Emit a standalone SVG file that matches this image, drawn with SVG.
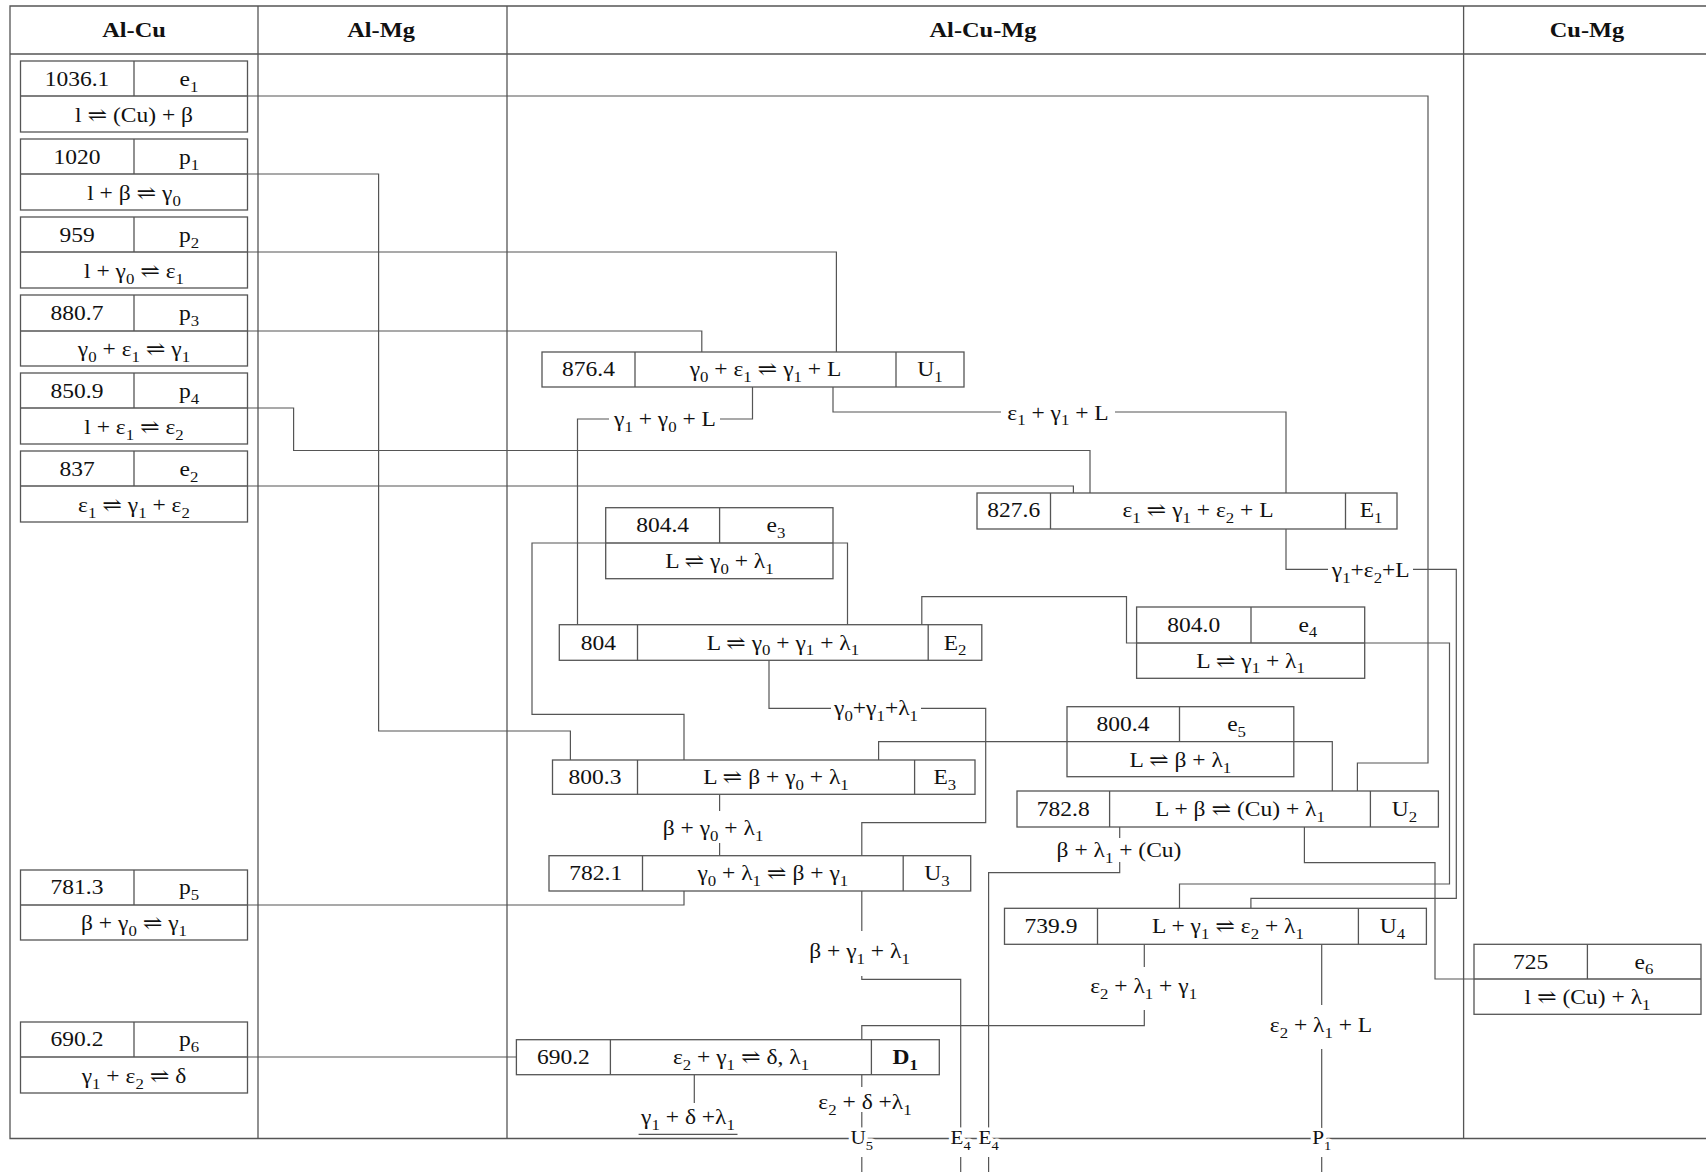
<svg xmlns="http://www.w3.org/2000/svg" width="1706" height="1172" viewBox="0 0 1706 1172">
<style>
.t{font-family:"Liberation Serif","DejaVu Serif",serif;font-size:21px;fill:#111;text-anchor:middle}
.h{font-family:"Liberation Serif","DejaVu Serif",serif;font-size:20px;font-weight:bold;fill:#111;text-anchor:middle}
.bd{font-weight:bold}
.s{font-size:15px;baseline-shift:-6px}
.bl{font-size:19px;stroke:#fff;stroke-width:7px;paint-order:stroke;stroke-linejoin:round}
.bl .s{font-size:13px}
.b{fill:#fff;stroke:#555;stroke-width:1.3}
.dv{fill:none;stroke:#555;stroke-width:1.3}
.c{fill:none;stroke:#555;stroke-width:1.2}
.g{fill:none;stroke:#555;stroke-width:1.3}
</style>
<rect width="1706" height="1172" fill="#fff"/>
<g id="table">
<polyline class="g" points="1706,6 10,6 10,1138.5 1706,1138.5"/>
<line class="g" x1="10" y1="54" x2="1706" y2="54"/>
<line class="g" x1="258" y1="6" x2="258" y2="1138.5"/>
<line class="g" x1="507" y1="6" x2="507" y2="1138.5"/>
<line class="g" x1="1463.6" y1="6" x2="1463.6" y2="1138.5"/>
<text class="h" transform="translate(134,37) scale(1.22,1)">Al-Cu</text>
<text class="h" transform="translate(381,37) scale(1.22,1)">Al-Mg</text>
<text class="h" transform="translate(983,37) scale(1.22,1)">Al-Cu-Mg</text>
<text class="h" transform="translate(1587,37) scale(1.22,1)">Cu-Mg</text>
</g>
<g id="connectors">
<polyline class="c" points="247.5,96 1428,96 1428,763 1357.4,763 1357.4,791"/>
<polyline class="c" points="247.5,174 378.6,174 378.6,731 570.4,731 570.4,760"/>
<polyline class="c" points="247.5,252 836.4,252 836.4,352"/>
<polyline class="c" points="247.5,331 701.8,331 701.8,352"/>
<polyline class="c" points="247.5,408 293.6,408 293.6,450.5 1090,450.5 1090,493"/>
<polyline class="c" points="247.5,486 1073.4,486 1073.4,493"/>
<polyline class="c" points="752.5,387 752.5,419 720,419"/>
<polyline class="c" points="609,419 577.5,419 577.5,624.7"/>
<polyline class="c" points="833,387 833,412 1001,412"/>
<polyline class="c" points="1115,412 1286,412 1286,493"/>
<polyline class="c" points="1286,529 1286,569.3 1328,569.3"/>
<polyline class="c" points="1413,569.3 1456.3,569.3 1456.3,898.3 1250.9,898.3 1250.9,908.3"/>
<polyline class="c" points="605.7,543 532,543 532,714.3 684,714.3 684,760"/>
<polyline class="c" points="833,543 847.5,543 847.5,624.7"/>
<polyline class="c" points="921.8,624.7 921.8,596.7 1126.5,596.7 1126.5,643 1136.6,643"/>
<polyline class="c" points="1364.7,643 1449.5,643 1449.5,884 1179.5,884 1179.5,908.3"/>
<polyline class="c" points="769,660.3 769,708.3 831,708.3"/>
<polyline class="c" points="921,708.3 985.7,708.3 985.7,822.7 861.8,822.7 861.8,855.7"/>
<polyline class="c" points="1067,741.7 878.6,741.7 878.6,760"/>
<polyline class="c" points="1293.8,741.7 1332.3,741.7 1332.3,791"/>
<polyline class="c" points="719.6,794.3 719.6,811"/>
<polyline class="c" points="719.6,843 719.6,855.7"/>
<polyline class="c" points="247.5,905 684,905 684,891"/>
<polyline class="c" points="861.8,891 861.8,931"/>
<polyline class="c" points="861.8,976 861.8,979.3 960.7,979.3 960.7,1138.5"/>
<polyline class="c" points="1119.7,827 1119.7,838"/>
<polyline class="c" points="1119.7,862 1119.7,872.7 988.6,872.7 988.6,1138.5"/>
<polyline class="c" points="1304.4,827 1304.4,862.7 1435,862.7 1435,979 1474,979"/>
<polyline class="c" points="1144.3,944.3 1144.3,967"/>
<polyline class="c" points="1144.3,1010 1144.3,1025.7 861.8,1025.7 861.8,1039.7"/>
<polyline class="c" points="1321.7,944.3 1321.7,1005"/>
<polyline class="c" points="1321.7,1049 1321.7,1138.5"/>
<polyline class="c" points="247.5,1057 516.4,1057"/>
<polyline class="c" points="694.3,1074.7 694.3,1103"/>
<line class="c" x1="638.6" y1="1134.3" x2="737.5" y2="1134.3"/>
<polyline class="c" points="861.8,1074.7 861.8,1087"/>
<polyline class="c" points="861.8,1112 861.8,1138.5"/>
<line class="c" x1="861.8" y1="1157" x2="861.8" y2="1172"/>
<line class="c" x1="960.7" y1="1157" x2="960.7" y2="1172"/>
<line class="c" x1="988.6" y1="1157" x2="988.6" y2="1172"/>
<line class="c" x1="1321.7" y1="1157" x2="1321.7" y2="1172"/>
<text class="t" transform="translate(665,426) scale(1.12,1)">γ<tspan class="s">1</tspan> + γ<tspan class="s">0</tspan> + L</text>
<text class="t" transform="translate(1058,419.5) scale(1.12,1)">ε<tspan class="s">1</tspan> + γ<tspan class="s">1</tspan> + L</text>
<text class="t" transform="translate(1370.7,577) scale(1.12,1)">γ<tspan class="s">1</tspan>+ε<tspan class="s">2</tspan>+L</text>
<text class="t" transform="translate(876,715) scale(1.12,1)">γ<tspan class="s">0</tspan>+γ<tspan class="s">1</tspan>+λ<tspan class="s">1</tspan></text>
<text class="t" transform="translate(713,835) scale(1.12,1)">β + γ<tspan class="s">0</tspan> + λ<tspan class="s">1</tspan></text>
<text class="t" transform="translate(859.5,958) scale(1.12,1)">β + γ<tspan class="s">1</tspan> + λ<tspan class="s">1</tspan></text>
<text class="t" transform="translate(1119,857) scale(1.12,1)">β + λ<tspan class="s">1</tspan> + (Cu)</text>
<text class="t" transform="translate(1143.6,993) scale(1.12,1)">ε<tspan class="s">2</tspan> + λ<tspan class="s">1</tspan> + γ<tspan class="s">1</tspan></text>
<text class="t" transform="translate(1321,1032) scale(1.12,1)">ε<tspan class="s">2</tspan> + λ<tspan class="s">1</tspan> + L</text>
<text class="t" transform="translate(865,1109) scale(1.12,1)">ε<tspan class="s">2</tspan> + δ +λ<tspan class="s">1</tspan></text>
<text class="t" transform="translate(688,1124) scale(1.12,1)">γ<tspan class="s">1</tspan> + δ +λ<tspan class="s">1</tspan></text>
<text class="t bl" transform="translate(861.8,1144) scale(1.12,1)">U<tspan class="s">5</tspan></text>
<text class="t bl" transform="translate(960.7,1144) scale(1.12,1)">E<tspan class="s">4</tspan></text>
<text class="t bl" transform="translate(988.6,1144) scale(1.12,1)">E<tspan class="s">4</tspan></text>
<text class="t bl" transform="translate(1321.7,1144) scale(1.12,1)">P<tspan class="s">1</tspan></text>
</g>
<g id="e1">
<rect class="b" x="20.5" y="61" width="227" height="71"/>
<line class="dv" x1="20.5" y1="96" x2="247.5" y2="96"/><line class="dv" x1="134" y1="61" x2="134" y2="96"/>
<text class="t" transform="translate(77,86) scale(1.12,1)">1036.1</text>
<text class="t" transform="translate(189,86) scale(1.12,1)">e<tspan class="s">1</tspan></text>
<text class="t" transform="translate(134,122) scale(1.12,1)">l ⇌ (Cu) + β</text>
</g>
<g id="p1">
<rect class="b" x="20.5" y="139" width="227" height="71"/>
<line class="dv" x1="20.5" y1="174" x2="247.5" y2="174"/><line class="dv" x1="134" y1="139" x2="134" y2="174"/>
<text class="t" transform="translate(77,164) scale(1.12,1)">1020</text>
<text class="t" transform="translate(189,164) scale(1.12,1)">p<tspan class="s">1</tspan></text>
<text class="t" transform="translate(134,200) scale(1.12,1)">l + β ⇌ γ<tspan class="s">0</tspan></text>
</g>
<g id="p2">
<rect class="b" x="20.5" y="217" width="227" height="71"/>
<line class="dv" x1="20.5" y1="252" x2="247.5" y2="252"/><line class="dv" x1="134" y1="217" x2="134" y2="252"/>
<text class="t" transform="translate(77,242) scale(1.12,1)">959</text>
<text class="t" transform="translate(189,242) scale(1.12,1)">p<tspan class="s">2</tspan></text>
<text class="t" transform="translate(134,278) scale(1.12,1)">l + γ<tspan class="s">0</tspan> ⇌ ε<tspan class="s">1</tspan></text>
</g>
<g id="p3">
<rect class="b" x="20.5" y="295" width="227" height="71"/>
<line class="dv" x1="20.5" y1="331" x2="247.5" y2="331"/><line class="dv" x1="134" y1="295" x2="134" y2="331"/>
<text class="t" transform="translate(77,320) scale(1.12,1)">880.7</text>
<text class="t" transform="translate(189,320) scale(1.12,1)">p<tspan class="s">3</tspan></text>
<text class="t" transform="translate(134,356) scale(1.12,1)">γ<tspan class="s">0</tspan> + ε<tspan class="s">1</tspan> ⇌ γ<tspan class="s">1</tspan></text>
</g>
<g id="p4">
<rect class="b" x="20.5" y="373" width="227" height="71"/>
<line class="dv" x1="20.5" y1="408" x2="247.5" y2="408"/><line class="dv" x1="134" y1="373" x2="134" y2="408"/>
<text class="t" transform="translate(77,398) scale(1.12,1)">850.9</text>
<text class="t" transform="translate(189,398) scale(1.12,1)">p<tspan class="s">4</tspan></text>
<text class="t" transform="translate(134,434) scale(1.12,1)">l + ε<tspan class="s">1</tspan> ⇌ ε<tspan class="s">2</tspan></text>
</g>
<g id="e2">
<rect class="b" x="20.5" y="451" width="227" height="71"/>
<line class="dv" x1="20.5" y1="486" x2="247.5" y2="486"/><line class="dv" x1="134" y1="451" x2="134" y2="486"/>
<text class="t" transform="translate(77,476) scale(1.12,1)">837</text>
<text class="t" transform="translate(189,476) scale(1.12,1)">e<tspan class="s">2</tspan></text>
<text class="t" transform="translate(134,512) scale(1.12,1)">ε<tspan class="s">1</tspan> ⇌ γ<tspan class="s">1</tspan> + ε<tspan class="s">2</tspan></text>
</g>
<g id="p5">
<rect class="b" x="20.5" y="870" width="227" height="70"/>
<line class="dv" x1="20.5" y1="905" x2="247.5" y2="905"/><line class="dv" x1="134" y1="870" x2="134" y2="905"/>
<text class="t" transform="translate(77,894) scale(1.12,1)">781.3</text>
<text class="t" transform="translate(189,894) scale(1.12,1)">p<tspan class="s">5</tspan></text>
<text class="t" transform="translate(134,930) scale(1.12,1)">β + γ<tspan class="s">0</tspan> ⇌ γ<tspan class="s">1</tspan></text>
</g>
<g id="p6">
<rect class="b" x="20.5" y="1022" width="227" height="71"/>
<line class="dv" x1="20.5" y1="1057" x2="247.5" y2="1057"/><line class="dv" x1="134" y1="1022" x2="134" y2="1057"/>
<text class="t" transform="translate(77,1046) scale(1.12,1)">690.2</text>
<text class="t" transform="translate(189,1046) scale(1.12,1)">p<tspan class="s">6</tspan></text>
<text class="t" transform="translate(134,1083) scale(1.12,1)">γ<tspan class="s">1</tspan> + ε<tspan class="s">2</tspan> ⇌ δ</text>
</g>
<g id="U1">
<rect class="b" x="542" y="352" width="422" height="35"/>
<line class="dv" x1="635" y1="352" x2="635" y2="387"/><line class="dv" x1="896" y1="352" x2="896" y2="387"/>
<text class="t" transform="translate(588.5,376) scale(1.12,1)">876.4</text>
<text class="t" transform="translate(765.5,376) scale(1.12,1)">γ<tspan class="s">0</tspan> + ε<tspan class="s">1</tspan> ⇌ γ<tspan class="s">1</tspan> + L</text>
<text class="t" transform="translate(930,376) scale(1.12,1)">U<tspan class="s">1</tspan></text>
</g>
<g id="E1">
<rect class="b" x="977" y="493" width="420" height="36"/>
<line class="dv" x1="1050.5" y1="493" x2="1050.5" y2="529"/><line class="dv" x1="1345.5" y1="493" x2="1345.5" y2="529"/>
<text class="t" transform="translate(1013.7,517) scale(1.12,1)">827.6</text>
<text class="t" transform="translate(1198,517) scale(1.12,1)">ε<tspan class="s">1</tspan> ⇌ γ<tspan class="s">1</tspan> + ε<tspan class="s">2</tspan> + L</text>
<text class="t" transform="translate(1371,517) scale(1.12,1)">E<tspan class="s">1</tspan></text>
</g>
<g id="e3">
<rect class="b" x="605.7" y="507.7" width="227.3" height="71"/>
<line class="dv" x1="605.7" y1="543" x2="833" y2="543"/><line class="dv" x1="719.6" y1="507.7" x2="719.6" y2="543"/>
<text class="t" transform="translate(662.6,532) scale(1.12,1)">804.4</text>
<text class="t" transform="translate(776,532) scale(1.12,1)">e<tspan class="s">3</tspan></text>
<text class="t" transform="translate(719.4,568) scale(1.12,1)">L ⇌ γ<tspan class="s">0</tspan> + λ<tspan class="s">1</tspan></text>
</g>
<g id="E2">
<rect class="b" x="559.3" y="624.7" width="422.5" height="35.6"/>
<line class="dv" x1="637.5" y1="624.7" x2="637.5" y2="660.3"/><line class="dv" x1="928.2" y1="624.7" x2="928.2" y2="660.3"/>
<text class="t" transform="translate(598.4,649.5) scale(1.12,1)">804</text>
<text class="t" transform="translate(782.9,649.5) scale(1.12,1)">L ⇌ γ<tspan class="s">0</tspan> + γ<tspan class="s">1</tspan> + λ<tspan class="s">1</tspan></text>
<text class="t" transform="translate(955,649.5) scale(1.12,1)">E<tspan class="s">2</tspan></text>
</g>
<g id="e4">
<rect class="b" x="1136.6" y="607" width="228.1" height="71.3"/>
<line class="dv" x1="1136.6" y1="643" x2="1364.7" y2="643"/><line class="dv" x1="1251" y1="607" x2="1251" y2="643"/>
<text class="t" transform="translate(1193.8,631.5) scale(1.12,1)">804.0</text>
<text class="t" transform="translate(1307.8,631.5) scale(1.12,1)">e<tspan class="s">4</tspan></text>
<text class="t" transform="translate(1250.6,667.5) scale(1.12,1)">L ⇌ γ<tspan class="s">1</tspan> + λ<tspan class="s">1</tspan></text>
</g>
<g id="e5">
<rect class="b" x="1067" y="706.7" width="226.8" height="70"/>
<line class="dv" x1="1067" y1="741.7" x2="1293.8" y2="741.7"/><line class="dv" x1="1179.5" y1="706.7" x2="1179.5" y2="741.7"/>
<text class="t" transform="translate(1123,731) scale(1.12,1)">800.4</text>
<text class="t" transform="translate(1236.6,731) scale(1.12,1)">e<tspan class="s">5</tspan></text>
<text class="t" transform="translate(1180.4,767) scale(1.12,1)">L ⇌ β + λ<tspan class="s">1</tspan></text>
</g>
<g id="E3">
<rect class="b" x="552.5" y="760" width="422.5" height="34.3"/>
<line class="dv" x1="637.5" y1="760" x2="637.5" y2="794.3"/><line class="dv" x1="914.6" y1="760" x2="914.6" y2="794.3"/>
<text class="t" transform="translate(595,784.3) scale(1.12,1)">800.3</text>
<text class="t" transform="translate(776,784.3) scale(1.12,1)">L ⇌ β + γ<tspan class="s">0</tspan> + λ<tspan class="s">1</tspan></text>
<text class="t" transform="translate(944.8,784.3) scale(1.12,1)">E<tspan class="s">3</tspan></text>
</g>
<g id="U2">
<rect class="b" x="1017" y="791" width="421.4" height="36"/>
<line class="dv" x1="1109.6" y1="791" x2="1109.6" y2="827"/><line class="dv" x1="1370.4" y1="791" x2="1370.4" y2="827"/>
<text class="t" transform="translate(1063.3,816) scale(1.12,1)">782.8</text>
<text class="t" transform="translate(1240,816) scale(1.12,1)">L + β ⇌ (Cu) + λ<tspan class="s">1</tspan></text>
<text class="t" transform="translate(1404.4,816) scale(1.12,1)">U<tspan class="s">2</tspan></text>
</g>
<g id="U3">
<rect class="b" x="549" y="855.7" width="421.7" height="35.3"/>
<line class="dv" x1="642.5" y1="855.7" x2="642.5" y2="891"/><line class="dv" x1="903.2" y1="855.7" x2="903.2" y2="891"/>
<text class="t" transform="translate(595.7,880) scale(1.12,1)">782.1</text>
<text class="t" transform="translate(772.8,880) scale(1.12,1)">γ<tspan class="s">0</tspan> + λ<tspan class="s">1</tspan> ⇌ β + γ<tspan class="s">1</tspan></text>
<text class="t" transform="translate(937,880) scale(1.12,1)">U<tspan class="s">3</tspan></text>
</g>
<g id="U4">
<rect class="b" x="1004.5" y="908.3" width="421.9" height="36"/>
<line class="dv" x1="1097.5" y1="908.3" x2="1097.5" y2="944.3"/><line class="dv" x1="1358.4" y1="908.3" x2="1358.4" y2="944.3"/>
<text class="t" transform="translate(1051,933) scale(1.12,1)">739.9</text>
<text class="t" transform="translate(1228,933) scale(1.12,1)">L + γ<tspan class="s">1</tspan> ⇌ ε<tspan class="s">2</tspan> + λ<tspan class="s">1</tspan></text>
<text class="t" transform="translate(1392.4,933) scale(1.12,1)">U<tspan class="s">4</tspan></text>
</g>
<g id="e6">
<rect class="b" x="1474" y="944.3" width="227" height="70"/>
<line class="dv" x1="1474" y1="979" x2="1701" y2="979"/><line class="dv" x1="1587.4" y1="944.3" x2="1587.4" y2="979"/>
<text class="t" transform="translate(1530.7,968.5) scale(1.12,1)">725</text>
<text class="t" transform="translate(1644,968.5) scale(1.12,1)">e<tspan class="s">6</tspan></text>
<text class="t" transform="translate(1587.5,1004) scale(1.12,1)">l ⇌ (Cu) + λ<tspan class="s">1</tspan></text>
</g>
<g id="D1">
<rect class="b" x="516.4" y="1039.7" width="422.9" height="35"/>
<line class="dv" x1="610.4" y1="1039.7" x2="610.4" y2="1074.7"/><line class="dv" x1="871.4" y1="1039.7" x2="871.4" y2="1074.7"/>
<text class="t" transform="translate(563.4,1064.3) scale(1.12,1)">690.2</text>
<text class="t" transform="translate(741,1064.3) scale(1.12,1)">ε<tspan class="s">2</tspan> + γ<tspan class="s">1</tspan> ⇌ δ, λ<tspan class="s">1</tspan></text>
<text class="t bd" transform="translate(905.3,1064.3) scale(1.12,1)">D<tspan class="s">1</tspan></text>
</g>
</svg>
